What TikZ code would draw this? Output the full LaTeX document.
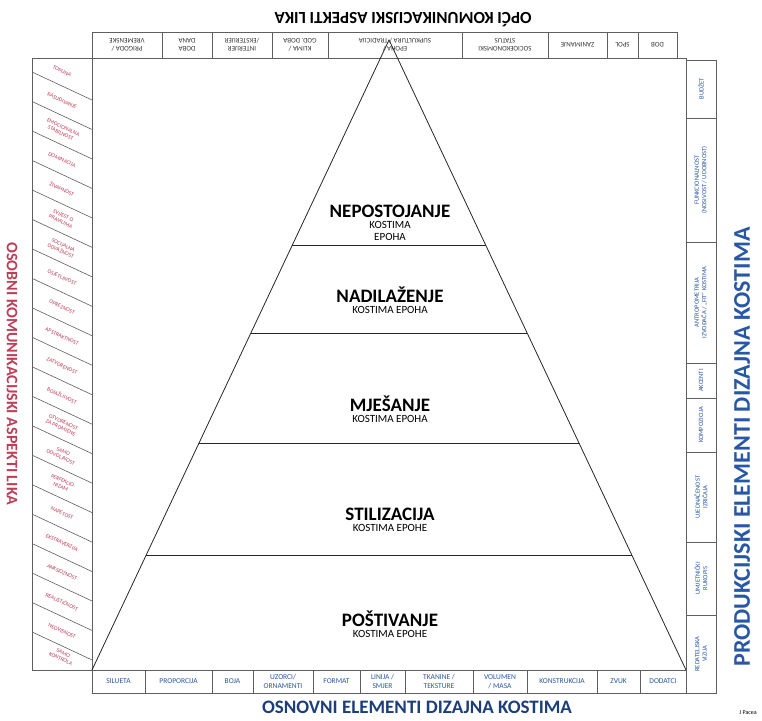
\documentclass[tikz,border=0pt]{standalone}
\usepackage{fontspec}
\setmainfont{Carlito}
\usetikzlibrary{positioning,calc}

\definecolor{osobniRed}{RGB}{190,62,88}
\definecolor{prodBlue}{RGB}{40,88,165}
\definecolor{osnovBlue}{RGB}{28,62,122}
\definecolor{opciGray}{RGB}{55,55,55}
\definecolor{lineGray}{RGB}{95,95,95}

\tikzset{
  strip/.style={draw=lineGray, line width=0.6pt},
  pyr/.style={draw=black!85, line width=0.8pt},
  cellL/.style={text=osobniRed, font=\fontsize{5.6}{6.2}\selectfont, align=center, rotate=-25, inner sep=0pt},
  cellT/.style={text=opciGray, font=\fontsize{7}{8}\selectfont, align=center, rotate=180, inner sep=0pt},
  cellR/.style={text=prodBlue, font=\fontsize{6.5}{7.5}\selectfont, align=center, rotate=90, inner sep=0pt},
  cellB/.style={text=prodBlue, font=\fontsize{7.5}{8.5}\selectfont, align=center, inner sep=0pt},
  layer/.style={font=\fontsize{19}{20}\selectfont\bfseries, anchor=base, inner sep=0pt},
  sub/.style={font=\fontsize{11}{12}\selectfont, align=center, inner sep=0pt},
  aspekt/.style={font=\fontsize{17}{18}\selectfont\bfseries, inner sep=0pt}
}

\begin{document}
\begin{tikzpicture}[x=1pt, y=-1pt]
  \useasboundingbox (0,0) rectangle (762,720);
  \fill[white] (0,0) rectangle (762,720);

  % main frame
  \coordinate (fTL) at (92,58);
  \coordinate (fBR) at (686,670);
  \draw[strip] (fTL) rectangle (fBR);

  % top strip
  \draw[strip] (92,32) rectangle (677,58);
  \foreach \x in {162,212,272,328,462,548,607,638}
    \draw[strip] (\x,32) -- (\x,58);
  \foreach \xa/\xb/\txt [count=\i] in {92/162/{PRIGODA /\\VREMENSKE}, 162/212/{DOBA\\DANA},
      212/272/{INTERIJER\\/EKSTERIJER}, 272/328/{KLIMA /\\GOD. DOBA},
      328/462/{EPOHA /\\SUPKULTURA / TRADICIJA}, 462/548/{SOCIOEKONOMSKI\\STATUS},
      548/607/{ZANIMANJE}, 607/638/{SPOL}, 638/677/{DOB}}
    \node[cellT] (top\i) at ({(\xa+\xb)/2},45) {\txt};

  % left strip
  \draw[strip] (32,58) rectangle (92,670);
  \foreach \i in {0,...,19}
    \draw[strip] (32,{72+\i*29.47}) -- (92,{100+\i*29.47});
  \foreach \txt [count=\k] in {TOPLINA, RASUĐIVANJE, {EMOCIONALNA\\STABILNOST}, DOMINACIJA,
      ŽIVAHNOST, {SVIJEST O\\PRAVILIMA}, {SOCIJALNA\\ODVAŽNOST}, OSJETLJIVOST, OPREZNOST,
      APSTRAKTNOST, ZATVORENOST, BOJAŽLJIVOST, {OTVORENOST\\ZA PROMJENE}, {SAMO\\DOVOLJNOST},
      {PERFEKCIO-\\NIZAM}, NAPETOST, EKSTRAVERZIJA, ANKSIOZNOST, REALISTIČNOST, NEOVISNOST,
      {SAMO\\KONTROLA}}
    \node[cellL] (left\k) at (62,{min(72+(\k-1.5)*29.47+14,656)}) {\txt};

  % right strip
  \draw[strip] (686,60) rectangle (716,693);
  \foreach \y in {118,242,363,398,452,542,615}
    \draw[strip] (686,\y) -- (716,\y);
  \foreach \ya/\yb/\txt [count=\i] in {60/118/{BUDŽET}, 118/242/{FUNKCIONALNOST\\(NOSIVOST / UDOBNOST)},
      242/363/{ANTROPOMETRIJA\\IZVOĐAČA / „FIT“ KOSTIMA}, 363/398/{AKCENTI}, 398/452/{KOMPOZICIJA},
      452/542/{UJEDNAČENOST\\IZRIČAJA}, 542/615/{UMJETNIČKI\\RUKOPIS}, 615/693/{REDATELJSKA\\VIZIJA}}
    \node[cellR] (right\i) at (701,{(\ya+\yb)/2}) {\txt};

  % bottom strip
  \draw[strip] (92,670) rectangle (686,693);
  \foreach \x in {145,212,253,313,360,405,473,527,597,640}
    \draw[strip] (\x,670) -- (\x,693);
  \foreach \xa/\xb/\txt [count=\i] in {92/145/{SILUETA}, 145/212/{PROPORCIJA}, 212/253/{BOJA},
      253/313/{UZORCI/\\ORNAMENTI}, 313/360/{FORMAT}, 360/405/{LINIJA /\\SMJER},
      405/473/{TKANINE /\\TEKSTURE}, 473/527/{VOLUMEN\\/ MASA}, 527/597/{KONSTRUKCIJA},
      597/640/{ZVUK}, 640/686/{DODATCI}}
    \node[cellB] (bot\i) at ({(\xa+\xb)/2},681.5) {\txt};

  % pyramid
  \coordinate (apex) at (389,40);
  \coordinate (baseL) at (92,670);
  \coordinate (baseR) at (686,670);
  \draw[pyr] (baseL) -- (apex) -- (baseR);
  \foreach \t in {0.3254,0.4651,0.6397,0.8175}
    \draw[pyr] ($(apex)!\t!(baseL)$) -- ($(apex)!\t!(baseR)$);

  \node[layer] (nep) at (390,217) {NEPOSTOJANJE};
  \node[sub, below=4pt of nep] (nepSub) {KOSTIMA\\EPOHA};
  \node[layer] (nad) at (390,302) {NADILAŽENJE};
  \node[sub, below=4pt of nad] (nadSub) {KOSTIMA EPOHA};
  \node[layer] (mje) at (390,411) {MJEŠANJE};
  \node[sub, below=4pt of mje] (mjeSub) {KOSTIMA EPOHA};
  \node[layer] (sti) at (390,520) {STILIZACIJA};
  \node[sub, below=4pt of sti] (stiSub) {KOSTIMA EPOHE};
  \node[layer] (pos) at (390,626) {POŠTIVANJE};
  \node[sub, below=4pt of pos] (posSub) {KOSTIMA EPOHE};

  % strip titles
  \node[aspekt, text=black, rotate=180] (opci) at (403,20) {OPĆI KOMUNIKACIJSKI ASPEKTI LIKA};
  \node[aspekt, text=osobniRed, rotate=-90, font=\fontsize{16}{17}\selectfont\bfseries] (osobni) at (12,374) {OSOBNI KOMUNIKACIJSKI ASPEKTI LIKA};
  \node[aspekt, text=prodBlue, rotate=90, font=\fontsize{24}{25}\selectfont\bfseries] (produkcijski) at (742,447) {PRODUKCIJSKI ELEMENTI DIZAJNA KOSTIMA};
  \node[aspekt, text=osnovBlue, font=\fontsize{19}{20}\selectfont\bfseries] (osnovni) at (417,707) {OSNOVNI ELEMENTI DIZAJNA KOSTIMA};
  \node[font=\fontsize{6}{7}\selectfont, inner sep=0pt] (autor) at (748,713) {J Pacea};
\end{tikzpicture}
\end{document}
